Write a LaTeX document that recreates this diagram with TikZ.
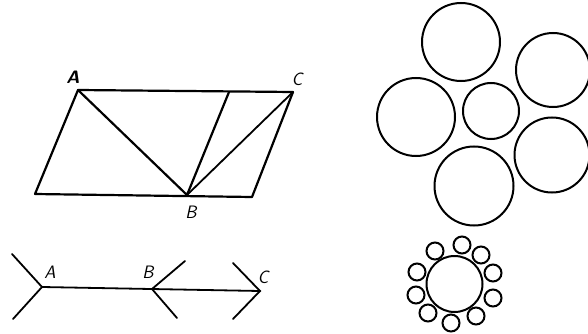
\documentclass[tikz,border=0pt]{standalone}
\begin{document}
\begin{tikzpicture}[x=1pt,y=-1pt,
  ln/.style={line width=2.2pt, line cap=round, line join=round},
  thin/.style={line width=1.8pt, line cap=round},
  circ/.style={line width=2pt},
  lbl/.style={font=\fontsize{18}{18}\selectfont\sffamily\itshape, inner sep=0pt}]
\useasboundingbox (0,0) rectangle (588,334);
% parallelogram
\coordinate (A) at (78,90);
\coordinate (C) at (293,92);
\coordinate (D) at (35,194);
\coordinate (E) at (252,197);
\coordinate (B) at (187,195);
\coordinate (T) at (229,92);
\draw[ln] (A) -- (C) -- (E) -- (D) -- cycle;
\draw[ln] (A) -- (B) -- (T);
\draw[thin] (B) -- (C);
\node[lbl, font=\fontsize{18}{18}\selectfont\sffamily\bfseries\itshape] (la) at (73,77) {A};
\node[lbl] (lc) at (297,79) {C};
\node[lbl] (lb) at (191,212) {B};
% bottom line
\coordinate (a) at (42,287);
\coordinate (a1) at (12,254);
\coordinate (a2) at (13,319);
\coordinate (b) at (152,289);
\coordinate (b1) at (185,261);
\coordinate (b2) at (177,318);
\coordinate (c) at (260,291);
\coordinate (c1) at (233,263);
\coordinate (c2) at (233,319);
\draw[thin] (a) -- (c);
\draw[thin] (a1) -- (a) -- (a2);
\draw[thin] (b1) -- (b) -- (b2);
\draw[thin] (c1) -- (c) -- (c2);
\node[lbl] (nA) at (50,272) {A};
\node[lbl] (nB) at (148,272) {B};
\node[lbl] (nC) at (263,277) {C};
% circles
\draw[circ] (461,42) circle (39);
\draw[circ] (553,70) circle (37);
\draw[circ] (416,117) circle (39);
\draw[circ] (491,111) circle (28);
\draw[circ] (474,186) circle (39.5);
\draw[circ] (552,155) circle (37.5);
% ring
\draw[circ] (454.5,284) circle (28);
\foreach \p in {(435,251),(462,245),(481,255),(493,273),(493,298),(476,316),(451,323),(428,313),(416,295),(417,272)}
  \draw[circ] \p circle (8.5);
\end{tikzpicture}
\end{document}
